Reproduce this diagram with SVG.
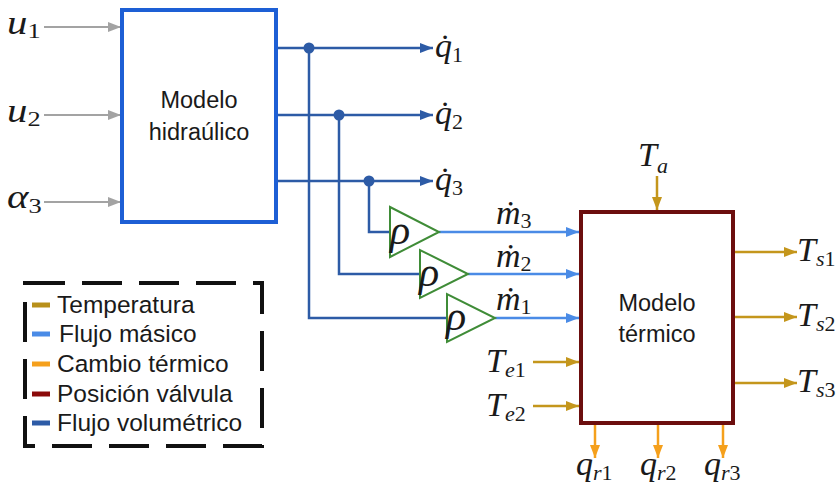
<svg xmlns="http://www.w3.org/2000/svg" width="837" height="486" viewBox="0 0 837 486">
<style>
.sans{font-family:"Liberation Sans",Arial,sans-serif;font-size:23.5px;fill:#1a1a1a}
.leg{font-size:24.5px}
.m{font-family:"Liberation Serif","Times New Roman",serif;font-style:italic;font-size:34px;fill:#1a1a1a}
.rho{font-family:"Liberation Serif","Times New Roman",serif;font-style:italic;font-size:42px;fill:#1a1a1a}
.sub{font-size:22px}
.up{font-style:normal}
.gray{stroke:#a3a3a3;stroke-width:2;fill:none}
.dblue{stroke:#2d5ba6;stroke-width:2.5;fill:none}
.lblue{stroke:#4a8be6;stroke-width:2.5;fill:none}
.gold{stroke:#c4961c;stroke-width:2.5;fill:none}
.orange{stroke:#f5a01c;stroke-width:2.5;fill:none}
.tri{fill:#fff;stroke:#3f8c37;stroke-width:2}
</style>
<defs>
<marker id="aGray" markerUnits="userSpaceOnUse" markerWidth="13" markerHeight="10" refX="13" refY="5" orient="auto"><path d="M0,0 L13,5 L0,10 z" fill="#a3a3a3"/></marker>
<marker id="aDblue" markerUnits="userSpaceOnUse" markerWidth="13" markerHeight="10" refX="13" refY="5" orient="auto"><path d="M0,0 L13,5 L0,10 z" fill="#2d5ba6"/></marker>
<marker id="aLblue" markerUnits="userSpaceOnUse" markerWidth="13" markerHeight="10" refX="13" refY="5" orient="auto"><path d="M0,0 L13,5 L0,10 z" fill="#4a8be6"/></marker>
<marker id="aGold" markerUnits="userSpaceOnUse" markerWidth="13" markerHeight="10" refX="13" refY="5" orient="auto"><path d="M0,0 L13,5 L0,10 z" fill="#c4961c"/></marker>
<marker id="aOrange" markerUnits="userSpaceOnUse" markerWidth="13" markerHeight="10" refX="13" refY="5" orient="auto"><path d="M0,0 L13,5 L0,10 z" fill="#f5a01c"/></marker>
</defs>
<rect width="837" height="486" fill="#fff"/>

<g id="connectors">
  <path class="gray" d="M44,27 H121" marker-end="url(#aGray)"/>
  <path class="gray" d="M44,115 H121" marker-end="url(#aGray)"/>
  <path class="gray" d="M44,202 H121" marker-end="url(#aGray)"/>
  <path class="dblue" d="M278,48 H433" marker-end="url(#aDblue)"/>
  <path class="dblue" d="M278,115 H433" marker-end="url(#aDblue)"/>
  <path class="dblue" d="M278,181 H433" marker-end="url(#aDblue)"/>
  <path class="dblue" d="M309,48 V318 H447"/>
  <path class="dblue" d="M339,115 V274 H420"/>
  <path class="dblue" d="M369,181 V232 H390"/>
  <circle cx="309" cy="48" r="5.5" fill="#2d5ba6"/>
  <circle cx="339" cy="115" r="5.5" fill="#2d5ba6"/>
  <circle cx="369" cy="181" r="5.5" fill="#2d5ba6"/>
  <path class="lblue" d="M439,232 H579" marker-end="url(#aLblue)"/>
  <path class="lblue" d="M468,274 H579" marker-end="url(#aLblue)"/>
  <path class="lblue" d="M495,318 H579" marker-end="url(#aLblue)"/>
  <path class="gold" d="M657,176 V210" marker-end="url(#aGold)"/>
  <path class="gold" d="M735,252 H797" marker-end="url(#aGold)"/>
  <path class="gold" d="M735,317 H797" marker-end="url(#aGold)"/>
  <path class="gold" d="M735,383 H797" marker-end="url(#aGold)"/>
  <path class="gold" d="M533,362 H579" marker-end="url(#aGold)"/>
  <path class="gold" d="M533,406 H579" marker-end="url(#aGold)"/>
  <path class="orange" d="M595,425 V458" marker-end="url(#aOrange)"/>
  <path class="orange" d="M658,425 V458" marker-end="url(#aOrange)"/>
  <path class="orange" d="M723,425 V458" marker-end="url(#aOrange)"/>
</g>

<g id="hidraulico">
  <rect x="122" y="10" width="154" height="212" fill="#fff" stroke="#1d5fd5" stroke-width="4"/>
  <text class="sans" x="199" y="108" text-anchor="middle">Modelo</text>
  <text class="sans" x="199" y="140" text-anchor="middle">hidraúlico</text>
</g>

<g id="termico">
  <rect x="581" y="212" width="152" height="211" fill="#fff" stroke="#6c0e0e" stroke-width="4"/>
  <text class="sans" x="657" y="311" text-anchor="middle">Modelo</text>
  <text class="sans" x="657" y="342" text-anchor="middle">térmico</text>
</g>

<g id="rho3"><polygon class="tri" points="390,207 390,257 439,232"/><text class="rho" x="390" y="244">ρ</text></g>
<g id="rho2"><polygon class="tri" points="420,250 420,298 468,274"/><text class="rho" x="419" y="286">ρ</text></g>
<g id="rho1"><polygon class="tri" points="447,294 447,342 495,318"/><text class="rho" x="446" y="330">ρ</text></g>

<g id="labels">
  <text class="m" transform="translate(7,34) scale(1.2,1)">u<tspan class="sub up" dy="4">1</tspan></text>
  <text class="m" transform="translate(7,122) scale(1.2,1)">u<tspan class="sub up" dy="4">2</tspan></text>
  <text class="m" transform="translate(7,208) scale(1.2,1)">α<tspan class="sub up" dy="5">3</tspan></text>
  <text class="m" x="435" y="57">q̇<tspan class="sub up" dy="5">1</tspan></text>
  <text class="m" x="435" y="124">q̇<tspan class="sub up" dy="5">2</tspan></text>
  <text class="m" x="435" y="190">q̇<tspan class="sub up" dy="5">3</tspan></text>
  <text class="m" x="496" y="224">ṁ<tspan class="sub up" dy="4">3</tspan></text>
  <text class="m" x="496" y="267">ṁ<tspan class="sub up" dy="4">2</tspan></text>
  <text class="m" x="496" y="310">ṁ<tspan class="sub up" dy="4">1</tspan></text>
  <text class="m" x="638" y="166">T<tspan class="sub" dy="7">a</tspan></text>
  <text class="m" x="797" y="261">T<tspan class="sub" dy="5">s</tspan><tspan class="sub up">1</tspan></text>
  <text class="m" x="797" y="326">T<tspan class="sub" dy="5">s</tspan><tspan class="sub up">2</tspan></text>
  <text class="m" x="797" y="392">T<tspan class="sub" dy="5">s</tspan><tspan class="sub up">3</tspan></text>
  <text class="m" x="486" y="372">T<tspan class="sub" dy="5">e</tspan><tspan class="sub up">1</tspan></text>
  <text class="m" x="486" y="416">T<tspan class="sub" dy="5">e</tspan><tspan class="sub up">2</tspan></text>
  <text class="m" x="576" y="475">q<tspan class="sub" dy="5">r</tspan><tspan class="sub up">1</tspan></text>
  <text class="m" x="640" y="475">q<tspan class="sub" dy="5">r</tspan><tspan class="sub up">2</tspan></text>
  <text class="m" x="704" y="475">q<tspan class="sub" dy="5">r</tspan><tspan class="sub up">3</tspan></text>
</g>

<g id="legend">
  <rect x="25" y="283" width="237" height="163" fill="none" stroke="#111" stroke-width="4" stroke-dasharray="40 17"/>
  <line x1="32" y1="305" x2="50" y2="305" stroke="#b8901a" stroke-width="5"/>
  <line x1="32" y1="334" x2="50" y2="334" stroke="#4a8be6" stroke-width="5"/>
  <line x1="32" y1="364" x2="50" y2="364" stroke="#f5a01c" stroke-width="5"/>
  <line x1="32" y1="394" x2="50" y2="394" stroke="#8b0a0a" stroke-width="5"/>
  <line x1="32" y1="423" x2="50" y2="423" stroke="#2d5ba6" stroke-width="5"/>
  <text class="sans leg" x="57" y="313">Temperatura</text>
  <text class="sans leg" x="59" y="342">Flujo másico</text>
  <text class="sans leg" x="57" y="372">Cambio térmico</text>
  <text class="sans leg" x="57" y="402">Posición válvula</text>
  <text class="sans leg" x="57" y="431">Flujo volumétrico</text>
</g>
</svg>
